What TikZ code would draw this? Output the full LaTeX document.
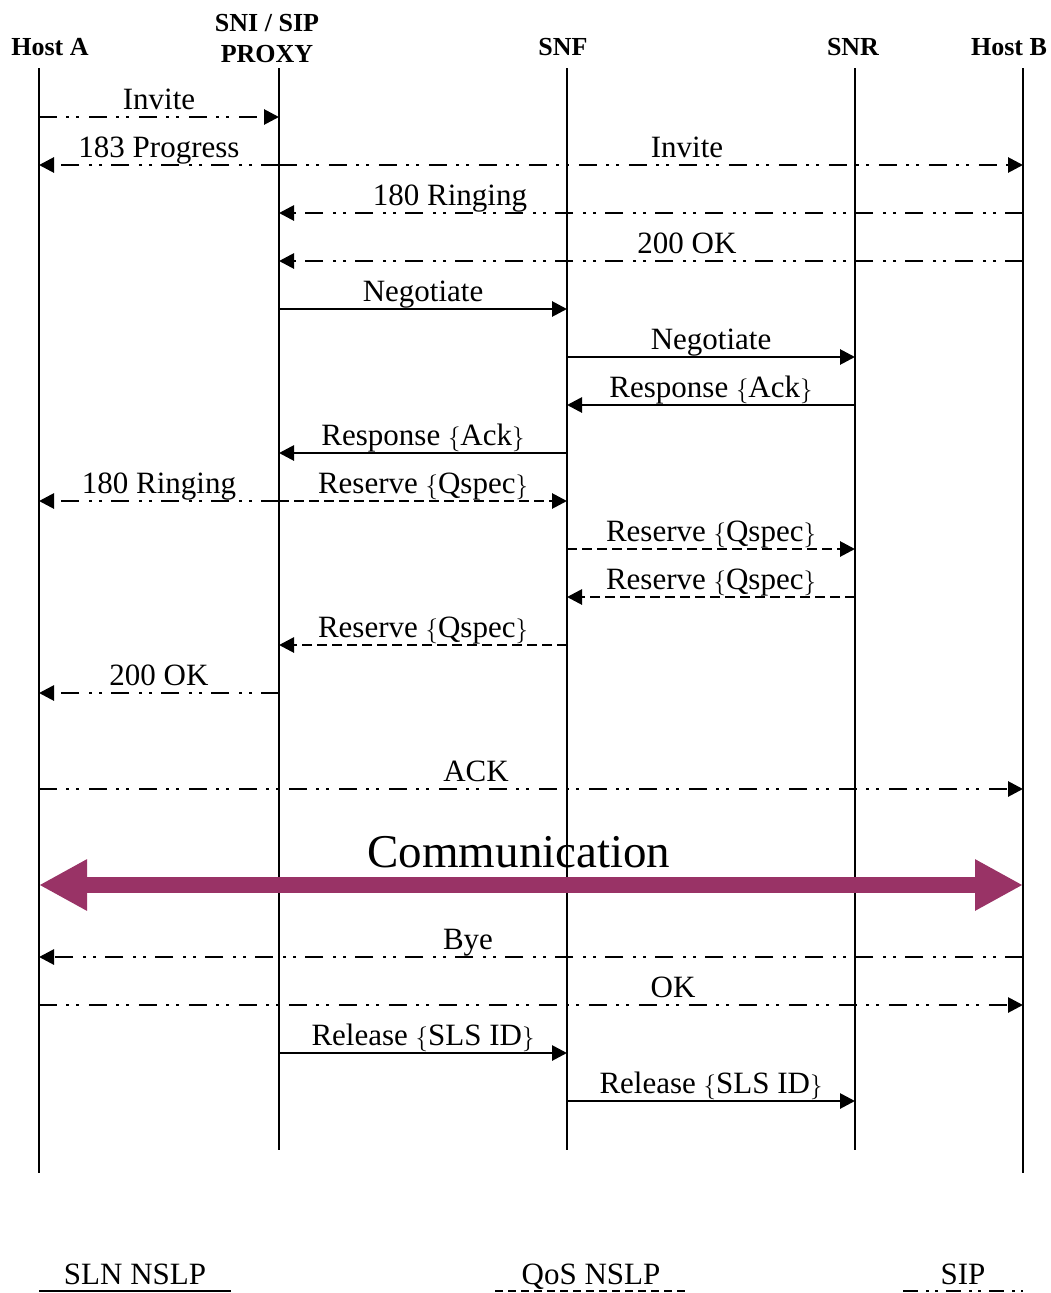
\documentclass[tikz,border=0pt]{standalone}
\usepackage{fontspec}
\setmainfont{Liberation Serif}
\usetikzlibrary{arrows.meta}
\definecolor{commcol}{RGB}{153,51,102}
\begin{document}
\begin{tikzpicture}[x=1pt,y=-1pt,
  lifeline/.style={line width=1.8pt},
  msg/.style={line width=2.8pt,-{Triangle[length=15pt,width=15pt]}},
  sipmsg/.style={msg,dash pattern=on 18pt off 9pt on 3pt off 7pt on 3pt off 10pt},
  qosmsg/.style={msg,dash pattern=on 10pt off 5pt},
  slnmsg/.style={msg},
  lbl/.style={anchor=base,inner sep=0pt,font=\fontsize{31}{31}\selectfont},
  hdr/.style={anchor=base,inner sep=0pt,font=\fontsize{26}{26}\selectfont\bfseries},
  legline/.style={line width=2pt}]
\useasboundingbox (0,0) rectangle (1050,1293);
% headers
\node[hdr] (hA) at (50,55) {Host A};
\node[hdr] (hP1) at (267,31) {SNI / SIP};
\node[hdr] (hP) at (267,62) {PROXY};
\node[hdr] (hF) at (563,55) {SNF};
\node[hdr] (hR) at (853,55) {SNR};
\node[hdr] (hB) at (1009,55) {Host B};
% lifeline ends
\foreach \n/\x/\b in {ha/39/1173,sp/279/1150,sf/567/1150,sr/855/1150,hb/1023/1173}{
  \coordinate (\n-top) at (\x,68);
  \coordinate (\n-bot) at (\x,\b);
}
\foreach \n in {ha,sp,sf,sr,hb}{\draw[lifeline] (\n-top) -- (\n-bot);}
% message points
\foreach \y in {117,165,213,261,309,357,405,453,501,549,597,645,693,789,885,957,1005,1053,1101}{
  \foreach \n/\x in {ha/39,sp/279,sf/567,sr/855,hb/1023}{
    \coordinate (\n-\y) at (\x,\y);
  }
}
% messages
\draw[sipmsg] (ha-117) -- (sp-117);
\node[lbl] (l1) at (159,109) {Invite};
\draw[sipmsg] (sp-165) -- (ha-165);
\node[lbl] (l2) at (159,157) {183 Progress};
\draw[sipmsg] (sp-165) -- (hb-165);
\node[lbl] (l3) at (687,157) {Invite};
\draw[sipmsg] (hb-213) -- (sp-213);
\node[lbl] (l4) at (450,205) {180 Ringing};
\draw[sipmsg] (hb-261) -- (sp-261);
\node[lbl] (l5) at (687,253) {200 OK};
\draw[slnmsg] (sp-309) -- (sf-309);
\node[lbl] (l6) at (423,301) {Negotiate};
\draw[slnmsg] (sf-357) -- (sr-357);
\node[lbl] (l7) at (711,349) {Negotiate};
\draw[slnmsg] (sr-405) -- (sf-405);
\node[lbl] (l8) at (711,397) {Response $\{$Ack$\}$};
\draw[slnmsg] (sf-453) -- (sp-453);
\node[lbl] (l9) at (423,445) {Response $\{$Ack$\}$};
\draw[sipmsg] (sp-501) -- (ha-501);
\node[lbl] (l10) at (159,493) {180 Ringing};
\draw[qosmsg] (sp-501) -- (sf-501);
\node[lbl] (l11) at (423,493) {Reserve $\{$Qspec$\}$};
\draw[qosmsg] (sf-549) -- (sr-549);
\node[lbl] (l12) at (711,541) {Reserve $\{$Qspec$\}$};
\draw[qosmsg] (sr-597) -- (sf-597);
\node[lbl] (l13) at (711,589) {Reserve $\{$Qspec$\}$};
\draw[qosmsg] (sf-645) -- (sp-645);
\node[lbl] (l14) at (423,637) {Reserve $\{$Qspec$\}$};
\draw[sipmsg] (sp-693) -- (ha-693);
\node[lbl] (l15) at (159,685) {200 OK};
\draw[sipmsg] (ha-789) -- (hb-789);
\node[lbl] (l16) at (476,781) {ACK};
% communication
\draw[line width=16pt,commcol,{Triangle[length=48pt,width=48pt]}-{Triangle[length=48pt,width=48pt]}] (ha-885) -- (hb-885);
\node[anchor=base,inner sep=0pt,font=\fontsize{47}{47}\selectfont] (comm) at (519,867) {Communication};
\draw[sipmsg] (hb-957) -- (ha-957);
\node[lbl] (l17) at (468,949) {Bye};
\draw[sipmsg] (ha-1005) -- (hb-1005);
\node[lbl] (l18) at (673,997) {OK};
\draw[slnmsg] (sp-1053) -- (sf-1053);
\node[lbl] (l19) at (423,1045) {Release $\{$SLS ID$\}$};
\draw[slnmsg] (sf-1101) -- (sr-1101);
\node[lbl] (l20) at (711,1093) {Release $\{$SLS ID$\}$};
% legend
\node[lbl] (g1) at (135,1284) {SLN NSLP};
\node[lbl] (g2) at (591,1284) {QoS NSLP};
\node[lbl] (g3) at (963,1284) {SIP};
\coordinate (g1a) at (39,1291); \coordinate (g1b) at (231,1291);
\coordinate (g2a) at (495,1291); \coordinate (g2b) at (685,1291);
\coordinate (g3a) at (903,1291); \coordinate (g3b) at (1023,1291);
\draw[legline] (g1a) -- (g1b);
\draw[legline,dash pattern=on 8pt off 5pt] (g2a) -- (g2b);
\draw[legline,dash pattern=on 15pt off 8pt on 3pt off 6pt on 3pt off 8pt] (g3a) -- (g3b);
\end{tikzpicture}
\end{document}
